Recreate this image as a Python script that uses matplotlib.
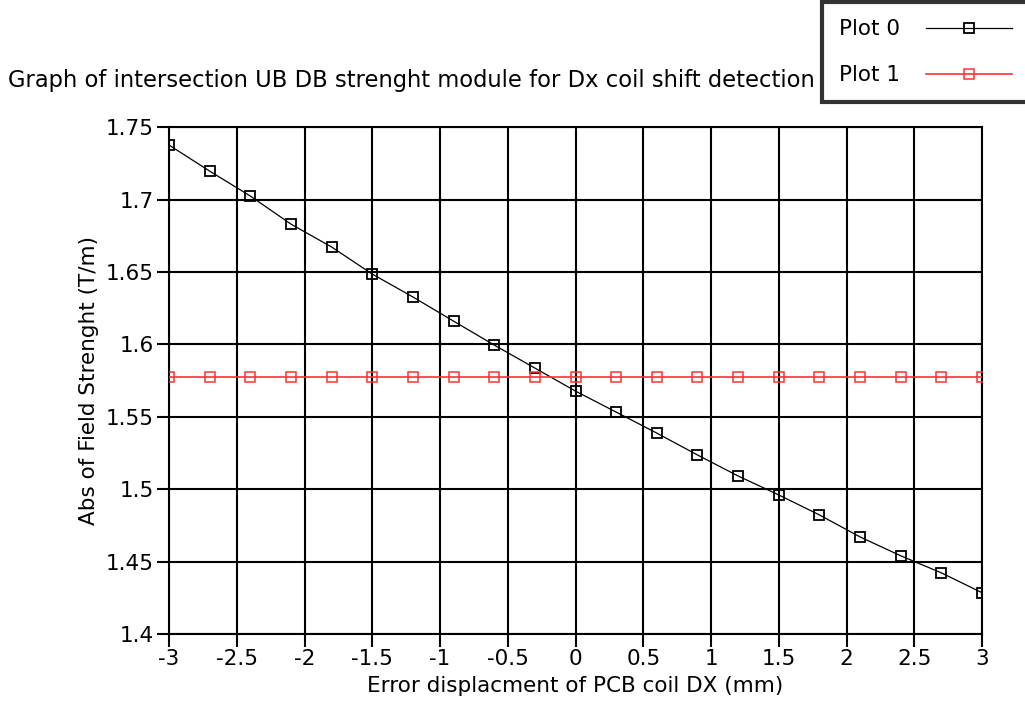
import matplotlib
matplotlib.use('Agg')
import matplotlib.pyplot as plt
import numpy as np

# === Data ===
dx_mm = [-3.0, -2.7, -2.4, -2.1, -1.8, -1.5, -1.2, -0.9, -0.6, -0.3, 0.0,
         0.3, 0.6, 0.9, 1.2, 1.5, 1.8, 2.1, 2.4, 2.7, 3.0]
plot0 = [1.7376, 1.7196, 1.7024, 1.6830, 1.6672, 1.6485, 1.6327, 1.6160,
         1.5995, 1.5836, 1.5677, 1.5532, 1.5387, 1.5236, 1.5091, 1.4960,
         1.4822, 1.4670, 1.4540, 1.4422, 1.4285]
plot1 = [1.5772] * 21
x_ticks = [-3, -2.5, -2, -1.5, -1, -0.5, 0, 0.5, 1, 1.5, 2, 2.5, 3]
x_labels = ["-3", "-2.5", "-2", "-1.5", "-1", "-0.5", "0", "0.5", "1", "1.5", "2", "2.5", "3"]
y_ticks = [1.4, 1.45, 1.5, 1.55, 1.6, 1.65, 1.7, 1.75]
y_labels = ["1.4", "1.45", "1.5", "1.55", "1.6", "1.65", "1.7", "1.75"]

plt.rcParams['font.family'] = ['DejaVu Sans']
fs = 15.5

fig = plt.figure(figsize=(10.25, 7.18), dpi=100)
ax = fig.add_axes([0.1649, 0.117, 0.7932, 0.706])

ax.plot(dx_mm, plot0, color="black", lw=0.9, marker="s", markersize=6.5,
        markerfacecolor="none", markeredgecolor="black", markeredgewidth=1.3,
        label="Plot 0", zorder=3)
ax.plot(dx_mm, plot1, color="#ff3030", lw=1.2, marker="s", markersize=6.5,
        markerfacecolor="none", markeredgecolor="#ff3030", markeredgewidth=1.1,
        label="Plot 1", zorder=3)

ax.set_xlim(-3, 3)
ax.set_ylim(1.4, 1.75)
ax.set_xticks(x_ticks)
ax.set_xticklabels(x_labels)
ax.set_yticks(y_ticks)
ax.set_yticklabels(y_labels)
ax.grid(True, color="black", lw=1.5)
ax.tick_params(direction="out", length=9, width=1.5, labelsize=fs, pad=2)
for s in ax.spines.values():
    s.set_linewidth(1.5)

ax.set_xlabel("Error displacment of PCB coil DX (mm)", fontsize=fs, labelpad=5)
ax.set_ylabel("Abs of Field Strenght (T/m)", fontsize=fs, labelpad=5)

fig.text(0.008, 0.888, "Graph of intersection UB DB strenght module for Dx coil shift detection",
         fontsize=16.3, ha="left", va="center")

leg = fig.legend(loc="upper right", bbox_to_anchor=(1.004, 0.997), markerfirst=False,
                 fontsize=fs, frameon=True, fancybox=False, edgecolor="black",
                 handlelength=4.0, handletextpad=1.2, borderpad=0.8,
                 labelspacing=1.2, borderaxespad=0)
leg.get_frame().set_linewidth(3)

fig.savefig("out.png", dpi=100)
